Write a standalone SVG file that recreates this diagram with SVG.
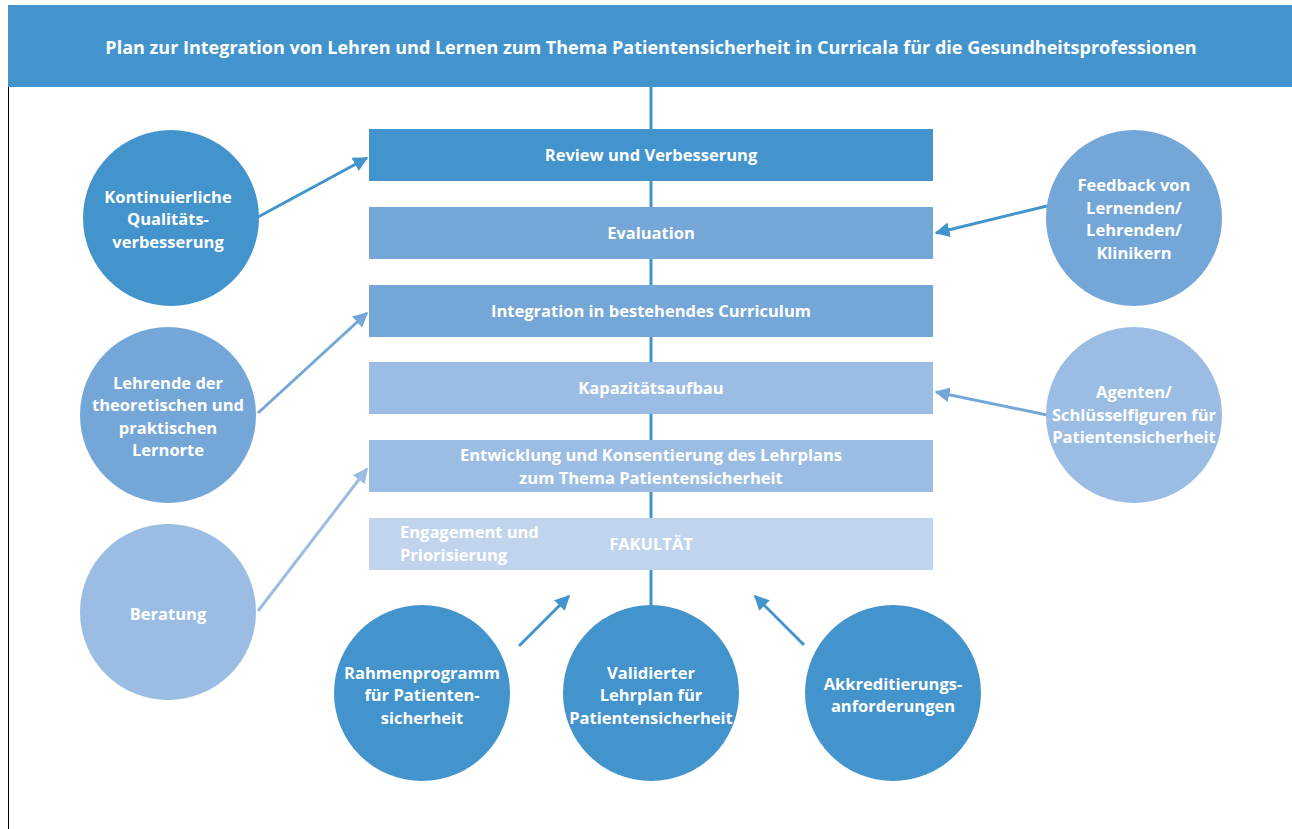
<svg xmlns="http://www.w3.org/2000/svg" width="1292" height="829" viewBox="0 0 1292 829">
<defs>
<style>
text{font-family:"Open Sans","Liberation Sans",sans-serif;font-weight:bold;fill:#fff;text-anchor:middle}
.t{font-size:16.5px}
.h{font-size:18px}
.c1{fill:#4394cd}.c2{fill:#74a7d7}.c3{fill:#9cbde3}.c4{fill:#c1d4ee}
.a1{stroke:#4394cd;stroke-width:3;fill:none}
.a2{stroke:#74a7d7;stroke-width:3;fill:none}
.a3{stroke:#9cbde3;stroke-width:3;fill:none}
</style>
<marker id="m1" viewBox="0 0 10 10" refX="9" refY="5" markerWidth="5" markerHeight="5" orient="auto"><path d="M0,0L10,5L0,10z" fill="#4394cd"/></marker>
<marker id="m2" viewBox="0 0 10 10" refX="9" refY="5" markerWidth="5" markerHeight="5" orient="auto"><path d="M0,0L10,5L0,10z" fill="#74a7d7"/></marker>
<marker id="m3" viewBox="0 0 10 10" refX="9" refY="5" markerWidth="5" markerHeight="5" orient="auto"><path d="M0,0L10,5L0,10z" fill="#9cbde3"/></marker>
</defs>
<rect width="1292" height="829" fill="#fff"/>
<line x1="8.5" y1="87" x2="8.5" y2="829" stroke="#000" stroke-width="1"/>
<g id="connectors">
<line x1="651" y1="87" x2="651" y2="606" stroke="#4394cd" stroke-width="3"/>
<line class="a1" x1="258" y1="217" x2="367" y2="158" marker-end="url(#m1)"/>
<line class="a2" x1="258" y1="413" x2="367" y2="313" marker-end="url(#m2)"/>
<line class="a3" x1="258" y1="611" x2="367" y2="469" marker-end="url(#m3)"/>
<line class="a1" x1="1047" y1="206" x2="936" y2="233" marker-end="url(#m1)"/>
<line class="a2" x1="1047" y1="415" x2="936" y2="392" marker-end="url(#m2)"/>
<line class="a1" x1="519" y1="646" x2="569" y2="596" marker-end="url(#m1)"/>
<line class="a1" x1="804" y1="645" x2="755" y2="596" marker-end="url(#m1)"/>
</g>
<g id="header">
<rect class="c1" x="8" y="5" width="1284" height="82"/>
<text class="h" x="651" y="54">Plan zur Integration von Lehren und Lernen zum Thema Patientensicherheit in Curricala für die Gesundheitsprofessionen</text>
</g>
<g id="review"><rect class="c1" x="369" y="129" width="564" height="52"/><text class="t" x="651" y="161">Review und Verbesserung</text></g>
<g id="evaluation"><rect class="c2" x="369" y="207" width="564" height="52"/><text class="t" x="651" y="239">Evaluation</text></g>
<g id="integration"><rect class="c2" x="369" y="285" width="564" height="52"/><text class="t" x="651" y="317">Integration in bestehendes Curriculum</text></g>
<g id="kapazitaet"><rect class="c3" x="369" y="362" width="564" height="52"/><text class="t" x="651" y="394">Kapazitätsaufbau</text></g>
<g id="entwicklung"><rect class="c3" x="369" y="440" width="564" height="52"/><text class="t" x="651" y="461">Entwicklung und Konsentierung des Lehrplans</text><text class="t" x="651" y="484">zum Thema Patientensicherheit</text></g>
<g id="fakultaet"><rect class="c4" x="369" y="518" width="564" height="52"/><text class="t" x="651" y="550">FAKULTÄT</text><text class="t" x="400" y="538" style="text-anchor:start">Engagement und</text><text class="t" x="400" y="561" style="text-anchor:start">Priorisierung</text></g>
<g id="kontinuierliche"><circle class="c1" cx="171" cy="218" r="88"/><text class="t" x="168" y="203">Kontinuierliche</text><text class="t" x="168" y="225">Qualitäts-</text><text class="t" x="168" y="248">verbesserung</text></g>
<g id="lehrende"><circle class="c2" cx="168" cy="415" r="88"/><text class="t" x="168" y="389">Lehrende der</text><text class="t" x="168" y="411">theoretischen und</text><text class="t" x="168" y="434">praktischen</text><text class="t" x="168" y="456">Lernorte</text></g>
<g id="beratung"><circle class="c3" cx="168" cy="612" r="88"/><text class="t" x="168" y="620">Beratung</text></g>
<g id="feedback"><circle class="c2" cx="1134" cy="218" r="88"/><text class="t" x="1134" y="191">Feedback von</text><text class="t" x="1134" y="214">Lernenden/</text><text class="t" x="1134" y="236">Lehrenden/</text><text class="t" x="1134" y="259">Klinikern</text></g>
<g id="agenten"><circle class="c3" cx="1134" cy="415" r="88"/><text class="t" x="1134" y="398">Agenten/</text><text class="t" x="1134" y="421">Schlüsselfiguren für</text><text class="t" x="1134" y="443">Patientensicherheit</text></g>
<g id="rahmen"><circle class="c1" cx="422" cy="693" r="88"/><text class="t" x="422" y="679">Rahmenprogramm</text><text class="t" x="422" y="701">für Patienten-</text><text class="t" x="422" y="724">sicherheit</text></g>
<g id="validierter"><circle class="c1" cx="651" cy="693" r="88"/><text class="t" x="651" y="679">Validierter</text><text class="t" x="651" y="701">Lehrplan für</text><text class="t" x="651" y="724">Patientensicherheit</text></g>
<g id="akkreditierung"><circle class="c1" cx="893" cy="693" r="88"/><text class="t" x="893" y="690">Akkreditierungs-</text><text class="t" x="893" y="712">anforderungen</text></g>
</svg>
